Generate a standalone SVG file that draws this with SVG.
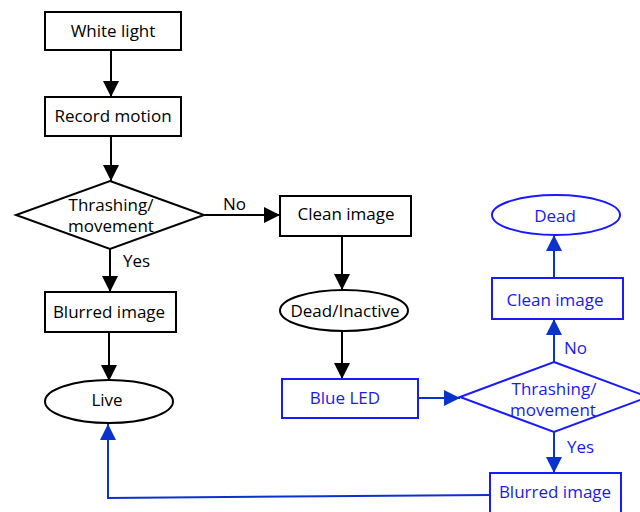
<svg xmlns="http://www.w3.org/2000/svg" width="640" height="512" viewBox="0 0 640 512">
  <style>
    .box { fill: #ffffff; stroke: #000000; stroke-width: 2; }
    .bbox { fill: #ffffff; stroke: #1a1aff; stroke-width: 2; }
    .t { font-family: "Open Sans", "Noto Sans", "DejaVu Sans", sans-serif; font-size: 17px; fill: #000000; text-anchor: middle; }
    .bt { font-family: "Open Sans", "Noto Sans", "DejaVu Sans", sans-serif; font-size: 17px; fill: #1a1aee; text-anchor: middle; }
    .lbl { font-family: "Open Sans", "Noto Sans", "DejaVu Sans", sans-serif; font-size: 17px; fill: #000000; }
    .blbl { font-family: "Open Sans", "Noto Sans", "DejaVu Sans", sans-serif; font-size: 17px; fill: #1a1aee; }
    .k { fill: none; stroke: #000000; stroke-width: 2; }
    .b { fill: none; stroke: #0a33cc; stroke-width: 2; }
  </style>
  <defs>
    <marker id="ak" markerUnits="userSpaceOnUse" markerWidth="16" markerHeight="16" viewBox="0 0 16 16" refX="16" refY="8" orient="auto">
      <path d="M0,0 L16,8 L0,16 z" fill="#000000"/>
    </marker>
    <marker id="ab" markerUnits="userSpaceOnUse" markerWidth="16" markerHeight="16" viewBox="0 0 16 16" refX="16" refY="8" orient="auto">
      <path d="M0,0 L16,8 L0,16 z" fill="#0a33cc"/>
    </marker>
  </defs>

  <!-- connectors -->
  <g id="connectors">
    <line class="k" x1="111" y1="50" x2="111" y2="97" marker-end="url(#ak)"/>
    <line class="k" x1="111" y1="136" x2="111" y2="181" marker-end="url(#ak)"/>
    <line class="k" x1="204" y1="215" x2="280" y2="215" marker-end="url(#ak)"/>
    <line class="k" x1="110" y1="249" x2="110" y2="292" marker-end="url(#ak)"/>
    <line class="k" x1="109" y1="332" x2="109" y2="381" marker-end="url(#ak)"/>
    <line class="k" x1="342" y1="236" x2="342" y2="290" marker-end="url(#ak)"/>
    <line class="k" x1="342" y1="331" x2="342" y2="379" marker-end="url(#ak)"/>
    <line class="b" x1="418" y1="398" x2="460" y2="398" marker-end="url(#ab)"/>
    <line class="b" x1="554" y1="362" x2="554" y2="319" marker-end="url(#ab)"/>
    <line class="b" x1="554" y1="278" x2="554" y2="235" marker-end="url(#ab)"/>
    <line class="b" x1="554" y1="432" x2="554" y2="473" marker-end="url(#ab)"/>
    <polyline class="b" points="490,495 108,498 108,424" marker-end="url(#ab)"/>
    <text class="lbl" x="223" y="210">No</text>
    <text class="lbl" x="123" y="267">Yes</text>
    <text class="blbl" x="564" y="354">No</text>
    <text class="blbl" x="567" y="453">Yes</text>
  </g>

  <g id="white-light">
    <rect class="box" x="45" y="12" width="136" height="38"/>
    <text class="t" x="113" y="37">White light</text>
  </g>
  <g id="record-motion">
    <rect class="box" x="45" y="97" width="136" height="39"/>
    <text class="t" x="113" y="122">Record motion</text>
  </g>
  <g id="thrashing-1">
    <polygon class="box" points="110,181 204,215 110,249 16,215"/>
    <text class="t" x="111" y="211">Thrashing/</text>
    <text class="t" x="111" y="232">movement</text>
  </g>
  <g id="clean-image-1">
    <rect class="box" x="280" y="196" width="131" height="40"/>
    <text class="t" x="346" y="220">Clean image</text>
  </g>
  <g id="blurred-image-1">
    <rect class="box" x="45" y="292" width="131" height="40"/>
    <text class="t" x="109" y="318">Blurred image</text>
  </g>
  <g id="dead-inactive">
    <ellipse class="box" cx="344" cy="310.5" rx="64" ry="20.5"/>
    <text class="t" x="345" y="317">Dead/Inactive</text>
  </g>
  <g id="live">
    <ellipse class="box" cx="109" cy="401.5" rx="64" ry="21.5"/>
    <text class="t" x="107" y="406">Live</text>
  </g>
  <g id="blue-led">
    <rect class="bbox" x="282" y="379" width="136" height="39"/>
    <text class="bt" x="345" y="404">Blue LED</text>
  </g>
  <g id="thrashing-2">
    <polygon class="bbox" points="554,362 648,397 554,432 460,397"/>
    <text class="bt" x="554" y="395">Thrashing/</text>
    <text class="bt" x="553" y="416">movement</text>
  </g>
  <g id="clean-image-2">
    <rect class="bbox" x="492" y="278" width="131" height="41"/>
    <text class="bt" x="555" y="306">Clean image</text>
  </g>
  <g id="dead">
    <ellipse class="bbox" cx="556" cy="215" rx="64" ry="20"/>
    <text class="bt" x="555" y="222">Dead</text>
  </g>
  <g id="blurred-image-2">
    <rect class="bbox" x="490" y="473" width="131" height="41"/>
    <text class="bt" x="555" y="498">Blurred image</text>
  </g>
</svg>
